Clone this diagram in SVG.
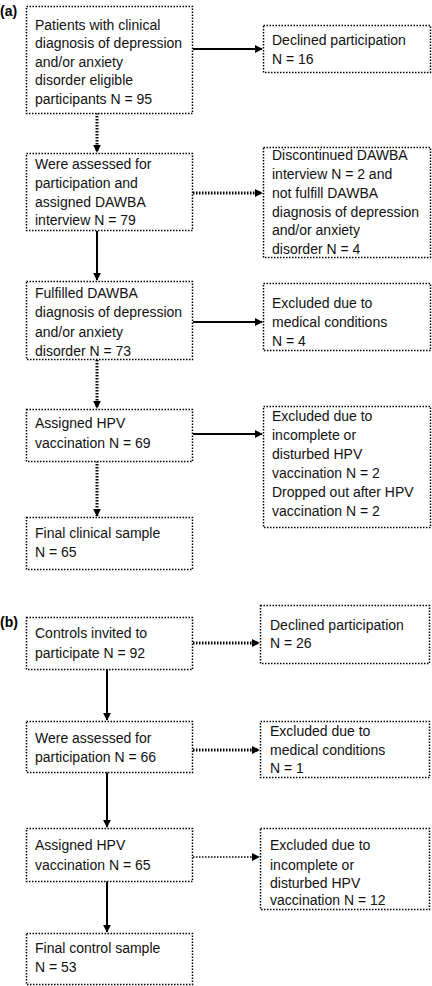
<svg xmlns="http://www.w3.org/2000/svg" width="432" height="986" viewBox="0 0 432 986">
<style>
.box{fill:#fff;stroke:#000;stroke-width:1.5;stroke-dasharray:1.5 1.5}
.t{font-family:"Liberation Sans",Arial,sans-serif;font-size:14px;fill:#111}
.lbl{font-family:"Liberation Sans",Arial,sans-serif;font-size:14px;font-weight:bold;fill:#000}
.solid{fill:none;stroke:#000;stroke-width:2}
.dot{fill:none;stroke:#000;stroke-width:3;stroke-dasharray:1.5 1.5}
.fine{fill:none;stroke:#000;stroke-width:1.5;stroke-dasharray:1.5 1.5}
</style>
<defs>
<marker id="ah" markerUnits="userSpaceOnUse" markerWidth="8" markerHeight="8" viewBox="0 0 10 10" refX="9" refY="5" orient="auto">
<path d="M0,0 L10,5 L0,10 z" fill="#000"/>
</marker>
</defs>
<text class="lbl" x="0" y="16">(a)</text>
<text class="lbl" x="0" y="627">(b)</text>
<g id="connectors">
<path class="dot" d="M97,113 V152" marker-end="url(#ah)"/>
<path class="solid" d="M97,231 V280" marker-end="url(#ah)"/>
<path class="dot" d="M97,360 V408" marker-end="url(#ah)"/>
<path class="dot" d="M97,461 V516" marker-end="url(#ah)"/>
<path class="solid" d="M193,49 H262" marker-end="url(#ah)"/>
<path class="dot" d="M193,193 H262" marker-end="url(#ah)"/>
<path class="solid" d="M193,322 H262" marker-end="url(#ah)"/>
<path class="solid" d="M193,434 H262" marker-end="url(#ah)"/>
<path class="solid" d="M107,669 V720" marker-end="url(#ah)"/>
<path class="solid" d="M107,772 V827" marker-end="url(#ah)"/>
<path class="solid" d="M107,881 V932" marker-end="url(#ah)"/>
<path class="dot" d="M193,643 H259" marker-end="url(#ah)"/>
<path class="dot" d="M193,750 H259" marker-end="url(#ah)"/>
<path class="fine" d="M193,857 H259" marker-end="url(#ah)"/>
</g>
<g id="a1"><rect class="box" x="26.5" y="6.5" width="166" height="107"/>
<text class="t" x="35" y="30">Patients with clinical</text>
<text class="t" x="35" y="48">diagnosis of depression</text>
<text class="t" x="35" y="67">and/or anxiety</text>
<text class="t" x="35" y="85">disorder eligible</text>
<text class="t" x="35" y="104">participants N = 95</text></g>
<g id="a1x"><rect class="box" x="263.5" y="25.5" width="167" height="47"/>
<text class="t" x="272" y="45">Declined participation</text>
<text class="t" x="272" y="64">N = 16</text></g>
<g id="a2"><rect class="box" x="26.5" y="153.5" width="166" height="77"/>
<text class="t" x="35" y="169">Were assessed for</text>
<text class="t" x="35" y="188">participation and</text>
<text class="t" x="35" y="207">assigned DAWBA</text>
<text class="t" x="35" y="225">interview N = 79</text></g>
<g id="a2x"><rect class="box" x="263.5" y="147.5" width="167" height="110"/>
<text class="t" x="272" y="160">Discontinued DAWBA</text>
<text class="t" x="272" y="179">interview N = 2 and</text>
<text class="t" x="272" y="198">not fulfill DAWBA</text>
<text class="t" x="272" y="217">diagnosis of depression</text>
<text class="t" x="272" y="235">and/or anxiety</text>
<text class="t" x="272" y="254">disorder N = 4</text></g>
<g id="a3"><rect class="box" x="26.5" y="281.5" width="166" height="78"/>
<text class="t" x="35" y="298">Fulfilled DAWBA</text>
<text class="t" x="35" y="317">diagnosis of depression</text>
<text class="t" x="35" y="337">and/or anxiety</text>
<text class="t" x="35" y="356">disorder N = 73</text></g>
<g id="a3x"><rect class="box" x="263.5" y="283.5" width="167" height="67"/>
<text class="t" x="272" y="308">Excluded due to</text>
<text class="t" x="272" y="327">medical conditions</text>
<text class="t" x="272" y="346">N = 4</text></g>
<g id="a4"><rect class="box" x="26.5" y="409.5" width="166" height="52"/>
<text class="t" x="35" y="428">Assigned HPV</text>
<text class="t" x="35" y="448">vaccination N = 69</text></g>
<g id="a4x"><rect class="box" x="263.5" y="406.5" width="167" height="121"/>
<text class="t" x="272" y="421">Excluded due to</text>
<text class="t" x="272" y="440">incomplete or</text>
<text class="t" x="272" y="459">disturbed HPV</text>
<text class="t" x="272" y="478">vaccination N = 2</text>
<text class="t" x="272" y="497">Dropped out after HPV</text>
<text class="t" x="272" y="516">vaccination N = 2</text></g>
<g id="a5"><rect class="box" x="26.5" y="517.5" width="166" height="52"/>
<text class="t" x="35" y="538">Final clinical sample</text>
<text class="t" x="35" y="557">N = 65</text></g>
<g id="b1"><rect class="box" x="26.5" y="617.5" width="166" height="52"/>
<text class="t" x="35" y="638">Controls invited to</text>
<text class="t" x="35" y="658">participate N = 92</text></g>
<g id="b1x"><rect class="box" x="260.5" y="605.5" width="169" height="58"/>
<text class="t" x="270" y="630">Declined participation</text>
<text class="t" x="270" y="648">N = 26</text></g>
<g id="b2"><rect class="box" x="26.5" y="721.5" width="166" height="51"/>
<text class="t" x="35" y="743">Were assessed for</text>
<text class="t" x="35" y="762">participation N = 66</text></g>
<g id="b2x"><rect class="box" x="260.5" y="721.5" width="169" height="56"/>
<text class="t" x="270" y="736">Excluded due to</text>
<text class="t" x="270" y="755">medical conditions</text>
<text class="t" x="270" y="773">N = 1</text></g>
<g id="b3"><rect class="box" x="26.5" y="828.5" width="166" height="53"/>
<text class="t" x="35" y="850">Assigned HPV</text>
<text class="t" x="35" y="870">vaccination N = 65</text></g>
<g id="b3x"><rect class="box" x="260.5" y="828.5" width="169" height="81"/>
<text class="t" x="270" y="850">Excluded due to</text>
<text class="t" x="270" y="870">incomplete or</text>
<text class="t" x="270" y="888">disturbed HPV</text>
<text class="t" x="270" y="905">vaccination N = 12</text></g>
<g id="b4"><rect class="box" x="26.5" y="933.5" width="166" height="51"/>
<text class="t" x="35" y="953">Final control sample</text>
<text class="t" x="35" y="972">N = 53</text></g>
</svg>
